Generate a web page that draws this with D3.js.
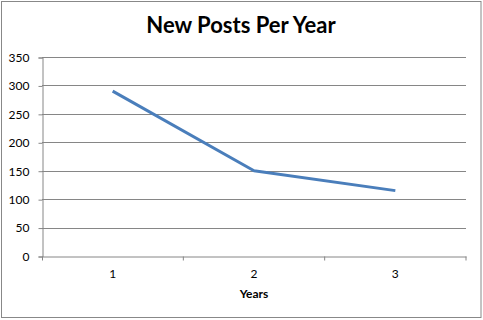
<!doctype html>
<html lang="en">
<head>
    <title>New Posts Per Year</title>
    <script src="https://d3js.org/d3.v7.min.js"></script>
    <style type="text/css">
        body { margin: 0; background: #fff; }
        text { font-family: Lato, "Open Sans", "DejaVu Sans", sans-serif; }
    </style>
</head>

<body>
</body>

<script type="text/javascript">

    var years  = ["1", "2", "3"];
    var posts  = [290, 150, 115];
    var yTicks = [0, 50, 100, 150, 200, 250, 300, 350];

    var width  = 483;
    var height = 320;
    var margin = {left: 42, right: 17, top: 57, bottom: 64};

    var svg = d3.select("body")
                .append("svg")
                .attr("width", width)
                .attr("height", height);

    // outer frame
    svg.append("rect")
       .attr("x", 1.5).attr("y", 1.5)
       .attr("width", width - 3.5).attr("height", height - 4)
       .attr("fill", "white")
       .attr("stroke", "#888")
       .attr("stroke-width", 1);

    var xScale = d3.scaleBand()
                   .domain(years)
                   .range([margin.left, width - margin.right]);

    var yScale = d3.scaleLinear()
                   .domain([0, 350])
                   .range([height - margin.bottom, margin.top]);

    // horizontal gridlines
    svg.append("g")
       .selectAll("line")
       .data(yTicks.filter((d)=>d > 0))
       .enter()
       .append("line")
       .attr("x1", margin.left)
       .attr("x2", width - margin.right)
       .attr("y1", (d)=>Math.round(yScale(d)) + 0.5)
       .attr("y2", (d)=>Math.round(yScale(d)) + 0.5)
       .attr("stroke", "#868686");

    // y axis
    var yAxis = svg.append("g")
       .attr("transform", "translate(" + (margin.left + 0.5) + ",0.5)")
       .call(d3.axisLeft(yScale).tickValues(yTicks).tickSize(4).tickPadding(9));

    // x axis
    var xAxis = svg.append("g")
       .attr("transform", "translate(0," + (Math.round(yScale(0)) + 0.5) + ")")
       .call(d3.axisBottom(xScale).tickSize(0).tickPadding(13));

    xAxis.selectAll(".tick")
       .append("line")
       .attr("x1", xScale.bandwidth() / 2)
       .attr("x2", xScale.bandwidth() / 2)
       .attr("y1", 0).attr("y2", 4)
       .attr("stroke", "#868686");
    xAxis.append("line")
       .attr("x1", margin.left + 0.5).attr("x2", margin.left + 0.5)
       .attr("y1", 0).attr("y2", 4)
       .attr("stroke", "#868686");

    [yAxis, xAxis].forEach(function(ax) {
        ax.select(".domain").attr("stroke", "#868686");
        ax.selectAll(".tick line").attr("stroke", "#868686");
        ax.selectAll("text")
          .attr("font-family", "Lato, 'Open Sans', sans-serif")
          .attr("font-size", 12)
          .attr("fill", "#000");
    });

    // line
    var line = d3.line()
                 .x((d, i)=>xScale(years[i]) + xScale.bandwidth() / 2)
                 .y((d)=>yScale(d));

    svg.append("path")
       .datum(posts)
       .attr("d", line)
       .attr("fill", "none")
       .attr("stroke", "#4A7EBB")
       .attr("stroke-width", 3)
       .attr("stroke-linejoin", "round");

    // title
    svg.append("text")
       .attr("x", 241)
       .attr("y", 33)
       .attr("text-anchor", "middle")
       .attr("font-size", 22)
       .attr("font-weight", "bold")
       .text("New Posts Per Year");

    // x axis title
    svg.append("text")
       .attr("x", xScale("2") + xScale.bandwidth() / 2)
       .attr("y", 298)
       .attr("text-anchor", "middle")
       .attr("font-size", 12)
       .attr("font-weight", "bold")
       .text("Years");

</script>

</html>
